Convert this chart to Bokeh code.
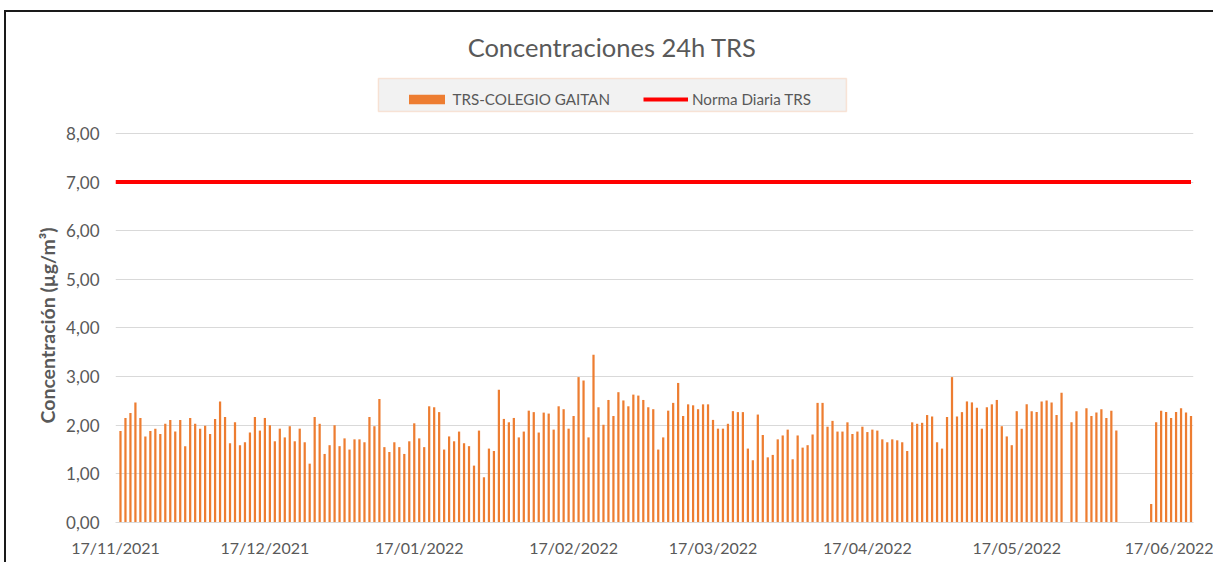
import pandas as pd
from bokeh.plotting import figure
from bokeh.models import (Range1d, FixedTicker, Legend, LegendItem, Label,
                          BoxAnnotation, ColumnDataSource, Title)
from bokeh.embed import file_html
from bokeh.resources import INLINE

# ---------------- data ----------------
first_day = "2021-11-18"          # date of the first daily value
axis_origin = "2021-11-17"        # date at the left edge of the axis

trs_values = [
    1.88, 2.15, 2.25, 2.47, 2.15, 1.77, 1.88, 1.93, 1.82, 2.03,
    2.11, 1.87, 2.11, 1.57, 2.15, 2.03, 1.93, 1.99, 1.82, 2.13,
    2.49, 2.17, 1.63, 2.06, 1.59, 1.65, 1.85, 2.17, 1.89, 2.15,
    2.00, 1.67, 1.93, 1.75, 1.98, 1.67, 1.93, 1.65, 1.21, 2.17,
    2.03, 1.41, 1.59, 2.00, 1.57, 1.73, 1.50, 1.71, 1.71, 1.65,
    2.17, 1.98, 2.54, 1.55, 1.45, 1.65, 1.55, 1.41, 1.67, 2.04,
    1.73, 1.55,
    2.39, 2.37, 2.27, 1.50, 1.77, 1.67, 1.87, 1.63, 1.57, 1.17,
    1.89, 0.93, 1.52, 1.47, 2.73, 2.13, 2.06, 2.15, 1.75, 1.87,
    2.30, 2.27, 1.85, 2.26, 2.24, 1.91, 2.39, 2.33, 1.93, 2.19,
    2.99,
    2.92, 1.75, 3.45, 2.37, 2.01, 2.52, 2.19, 2.68, 2.51, 2.39,
    2.63, 2.61, 2.52, 2.37, 2.33, 1.50, 1.75, 2.30, 2.46, 2.87,
    2.19, 2.43, 2.41, 2.33, 2.43, 2.43, 2.11, 1.93, 1.93, 2.03,
    2.29,
    2.27, 2.27, 1.52, 1.28, 2.22, 1.80, 1.34, 1.39, 1.71, 1.79,
    1.91, 1.30, 1.79, 1.54, 1.59, 1.81, 2.46, 2.46, 1.97, 2.09,
    1.87, 1.87, 2.06, 1.82, 1.87, 1.97, 1.86, 1.91, 1.89, 1.71,
    1.65,
    1.71, 1.69, 1.65, 1.47, 2.06, 2.03, 2.05, 2.21, 2.18, 1.65,
    1.52, 2.17, 2.99, 2.18, 2.27, 2.49, 2.47, 2.36, 1.93, 2.37,
    2.43, 2.52, 1.98, 1.77, 1.59, 2.29, 1.93, 2.43, 2.29, 2.27,
    2.49,
    2.51, 2.47, 2.21, 2.67, None, 2.06, 2.29, None, 2.35, 2.19,
    2.26, 2.33, 2.15, 2.30, 1.89, None, None, None, None, None,
    None, 0.38, 2.06, 2.30, 2.27, 2.15, 2.27, 2.35, 2.26, 2.19,
]
norm_value = 7.0

y_ticks = [0, 1, 2, 3, 4, 5, 6, 7, 8]
y_tick_labels = ["0,00", "1,00", "2,00", "3,00", "4,00", "5,00", "6,00", "7,00", "8,00"]
x_tick_labels = ["17/11/2021", "17/12/2021", "17/01/2022", "17/02/2022",
                 "17/03/2022", "17/04/2022", "17/05/2022", "17/06/2022"]

title_text = "Concentraciones  24h TRS"
series_name = "TRS-COLEGIO GAITAN"
norm_name = "Norma Diaria TRS"
y_title = "Concentración (µg/m³)"

# ---------------- derived ----------------
origin = pd.Timestamp(axis_origin)
dates = pd.date_range(first_day, periods=len(trs_values), freq="D")
days = [(d - origin).days for d in dates]
bar_x = [x for x, v in zip(days, trs_values) if v is not None]
bar_top = [v for v in trs_values if v is not None]
bar_src = ColumnDataSource(dict(x=bar_x, top=bar_top))

norm_x = [0] + days
norm_y = [norm_value] * len(norm_x)
norm_src = ColumnDataSource(dict(x=norm_x, y=norm_y))

x_tick_pos = [(pd.to_datetime(s, dayfirst=True) - origin).days for s in x_tick_labels]

GRAY = "#595959"
FONT = "Lato"

# frame spans the whole chart height so header texts sit inside it
p = figure(width=1209, height=552, output_backend="svg", toolbar_location=None,
           x_range=Range1d(0, 216.5), y_range=Range1d(0, 10.447),
           min_border_left=109, min_border_right=22, min_border_top=2,
           min_border_bottom=42)
p.styles = {"margin-left": "4px", "margin-top": "10px",
            "border-top": "2px solid #1a1a1a", "border-left": "2px solid #1a1a1a"}
p.outline_line_color = None
p.background_fill_color = "white"
p.border_fill_color = "white"

p.xgrid.visible = False
p.ygrid.grid_line_color = "#D9D9D9"
p.ygrid.grid_line_width = 1

yax = p.yaxis[0]
yax.ticker = FixedTicker(ticks=y_ticks)
yax.major_label_overrides = {t: l for t, l in zip(y_ticks, y_tick_labels)}
yax.axis_line_color = None
yax.major_tick_line_color = None
yax.minor_tick_line_color = None
yax.major_tick_out = 0
yax.major_tick_in = 0
yax.major_label_standoff = 16
yax.major_label_text_font = FONT
yax.major_label_text_font_size = "17px"
yax.major_label_text_color = GRAY

xax = p.xaxis[0]
xax.ticker = FixedTicker(ticks=x_tick_pos)
xax.major_label_overrides = {t: l for t, l in zip(x_tick_pos, x_tick_labels)}
xax.axis_line_color = "#D9D9D9"
xax.major_tick_line_color = None
xax.minor_tick_line_color = None
xax.major_tick_out = 0
xax.major_tick_in = 0
xax.major_label_standoff = 15
xax.major_label_text_font = FONT
xax.major_label_text_font_size = "16px"
xax.major_label_text_color = GRAY

# y-axis title as a left-side title (anchored near the bottom of the frame)
ytitle = Title(text=y_title, align="left", offset=99, standoff=10,
               text_font=FONT, text_font_size="19.5px", text_font_style="bold",
               text_color=GRAY)
p.add_layout(ytitle, "left")

bars = p.vbar(x="x", top="top", bottom=0, width=0.45, source=bar_src,
              fill_color="#ED7D31", line_color=None)
norm = p.line(x="x", y="y", source=norm_src, line_color="#FF0000", line_width=4)

# legend background box
box = BoxAnnotation(left=52.8, right=146.8, bottom=8.452, top=9.131,
                    fill_color="#F2F2F2", fill_alpha=1.0,
                    line_color="#F4B183", line_width=1.5)
p.add_layout(box)

legend = Legend(items=[LegendItem(label=series_name, renderers=[bars]),
                       LegendItem(label=norm_name, renderers=[norm])],
                orientation="horizontal", location=(288.5, 414),
                padding=4, margin=0, spacing=33, label_standoff=4,
                glyph_width=45, glyph_height=12,
                label_text_font=FONT, label_text_font_size="15.2px",
                label_text_color=GRAY,
                background_fill_alpha=0, border_line_color=None)
p.add_layout(legend)

title = Label(x=100.4, y=9.769, text=title_text, text_align="center",
              text_baseline="middle", text_font=FONT, text_font_size="25.5px",
              text_color=GRAY)
p.add_layout(title)

open("out.html", "w").write(file_html(p, INLINE))
